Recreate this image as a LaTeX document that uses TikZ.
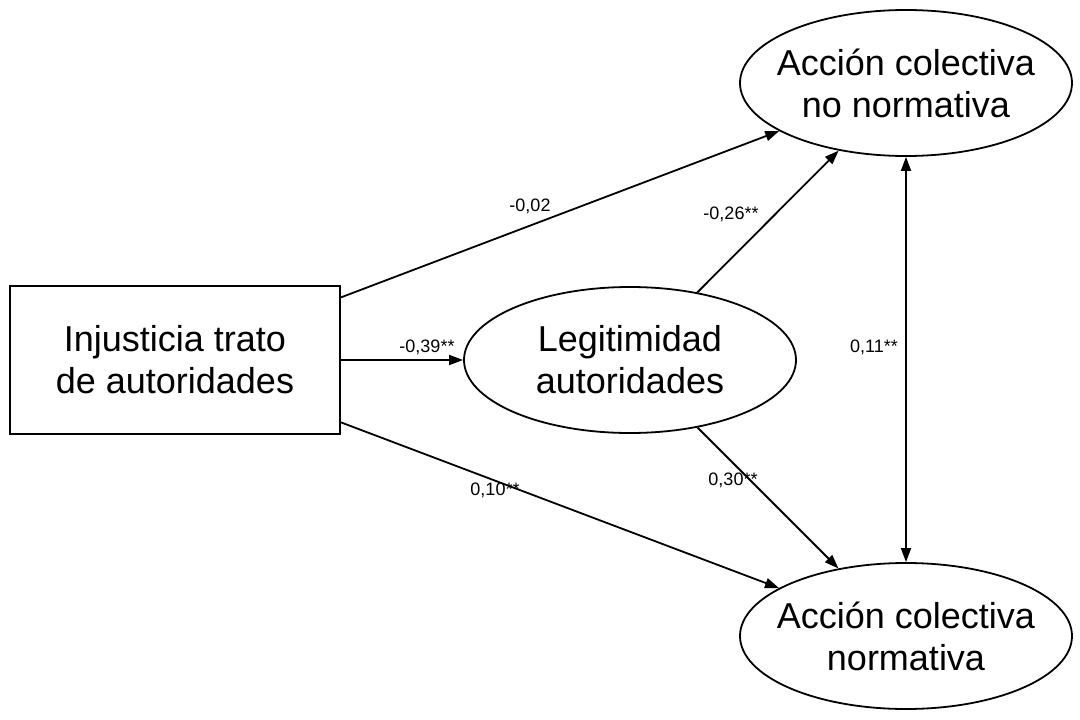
\documentclass[tikz,border=0pt]{standalone}
\usepackage{fontspec}
\setmainfont{Liberation Sans}
\usetikzlibrary{shapes.geometric, arrows.meta}

\begin{document}
\begin{tikzpicture}[x=1pt, y=-1pt, line width=1.8pt,
    >={Triangle[length=14pt, width=10pt]},
    latent/.style={ellipse, draw, inner xsep=-20pt, inner ysep=0pt, align=center,
        minimum width=332pt, minimum height=146pt, font=\fontsize{36}{42}\selectfont},
    observed/.style={rectangle, draw, inner sep=0pt, align=center,
        minimum width=330pt, minimum height=148pt, font=\fontsize{36}{42}\selectfont},
    coef/.style={inner sep=0pt, font=\fontsize{18}{20}\selectfont}]
    \useasboundingbox (0, 0) rectangle (1080, 720);

    % variables
    \node[observed] (inj) at (175, 360) {Injusticia trato\\de autoridades};
    \node[latent] (legit) at (630, 360) {Legitimidad\\autoridades};
    \node[latent] (nonorm) at (906, 83) {Acción colectiva\\no normativa};
    \node[latent] (norm) at (906, 636) {Acción colectiva\\normativa};

    % paths
    \draw[->] (inj) -- (nonorm);
    \draw[->] (inj) -- (legit);
    \draw[->] (inj) -- (norm);
    \draw[->] (legit) -- (nonorm);
    \draw[->] (legit) -- (norm);
    \draw[<->] (nonorm) -- (norm);

    % coefficients
    \node[coef] (c1) at (530, 206) {-0,02};
    \node[coef] (c2) at (427, 347) {-0,39**};
    \node[coef] (c3) at (495, 490) {0,10**};
    \node[coef] (c4) at (731, 214) {-0,26**};
    \node[coef] (c5) at (733, 480) {0,30**};
    \node[coef] (c6) at (874, 347) {0,11**};
\end{tikzpicture}
\end{document}
